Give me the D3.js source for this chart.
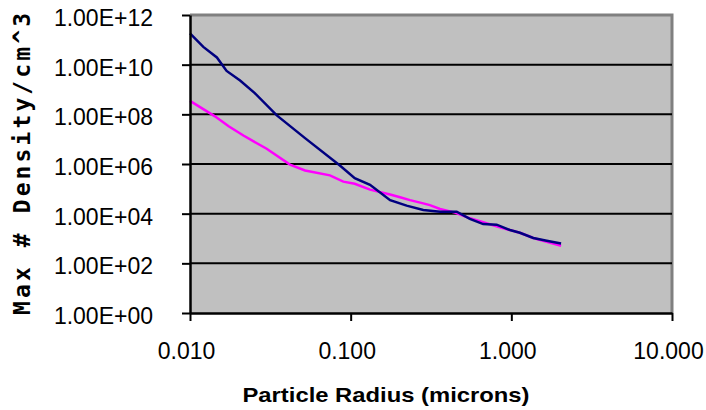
<!DOCTYPE html>
<html>
<head>
<meta charset="utf-8">
<script src="https://cdn.jsdelivr.net/npm/d3@7"></script>
<style>
  body { margin: 0; background: #fff; }
  text { font-family: "Liberation Sans", Arial, sans-serif; }
</style>
</head>
<body>
<div id="chart"></div>
<script>
// radius (microns) and max number density (cm^-3)
let blueRadius = [0.010, 0.0121, 0.0147, 0.0169, 0.0205, 0.0253, 0.0347, 0.052, 0.0857, 0.106, 0.132, 0.176,
  0.223, 0.283, 0.36, 0.457, 0.552, 0.668, 0.81, 0.98, 1.13, 1.37, 1.66, 2.04];
let blueDensity = [1.8e11, 5.2e10, 1.95e10, 5.6e9, 2.3e9, 7.2e8, 9.1e7, 1.1e7, 8.7e5, 2.7e5, 1.45e5, 3.5e4,
  2.1e4, 1.4e4, 1.2e4, 1.2e4, 6.2e3, 3.8e3, 3.6e3, 2.2e3, 1.7e3, 1.05e3, 8.1e2, 6.3e2];

let pinkRadius = [0.010, 0.0143, 0.0174, 0.0215, 0.030, 0.0419, 0.052, 0.0743, 0.09, 0.106, 0.132, 0.176,
  0.203, 0.234, 0.283, 0.311, 0.36, 0.446, 0.552, 0.668, 0.849, 1.13, 1.37, 2.04];
let pinkDensity = [3.5e8, 8.3e7, 3.3e7, 1.4e7, 4.1e6, 9.5e5, 5.5e5, 3.5e5, 1.95e5, 1.6e5, 9.3e4, 5.9e4,
  4.6e4, 3.5e4, 2.6e4, 2.2e4, 1.55e4, 1.1e4, 6.5e3, 4.5e3, 2.8e3, 1.7e3, 1.05e3, 5.1e2];

let xTicks = [0.01, 0.1, 1, 10];
let yTicks = [1, 1e2, 1e4, 1e6, 1e8, 1e10, 1e12];

let width = 706, height = 410;
let plotLeft = 190, plotRight = 672, plotTop = 15, plotBottom = 313;

let svg = d3.select("#chart").append("svg")
  .attr("width", width)
  .attr("height", height);

let xScale = d3.scaleLog().domain([0.01, 10]).range([plotLeft, plotRight]);
let yScale = d3.scaleLog().domain([1, 1e12]).range([plotBottom, plotTop]);

// plot background
svg.append("rect")
  .attr("x", plotLeft).attr("y", plotTop)
  .attr("width", plotRight - plotLeft).attr("height", plotBottom - plotTop)
  .attr("fill", "#c0c0c0");

// top and right border (grey)
svg.append("path")
  .attr("d", `M${plotLeft},${plotTop}H${plotRight}V${plotBottom}`)
  .attr("fill", "none")
  .attr("stroke", "#808080")
  .attr("stroke-width", 3);

// gridlines
svg.selectAll(".grid")
  .data(yTicks.slice(1, -1))
  .enter()
  .append("line")
  .attr("x1", plotLeft).attr("x2", plotRight)
  .attr("y1", d => yScale(d)).attr("y2", d => yScale(d))
  .attr("stroke", "#000")
  .attr("stroke-width", 2);

// lines
let line = d3.line().x(d => xScale(d[0])).y(d => yScale(d[1]));

svg.append("path")
  .datum(pinkRadius.map((r, i) => [r, pinkDensity[i]]))
  .attr("d", line)
  .attr("fill", "none")
  .attr("stroke", "#ff00ff")
  .attr("stroke-width", 2.5);

svg.append("path")
  .datum(blueRadius.map((r, i) => [r, blueDensity[i]]))
  .attr("d", line)
  .attr("fill", "none")
  .attr("stroke", "#000080")
  .attr("stroke-width", 2.5);

// axes
let xAxis = d3.axisBottom(xScale)
  .tickValues(xTicks)
  .tickFormat(d3.format(".3f"))
  .tickSize(8)
  .tickSizeOuter(0)
  .tickPadding(22);

let yAxis = d3.axisLeft(yScale)
  .tickValues(yTicks)
  .tickFormat(d => "1.00E+" + String(Math.round(Math.log10(d))).padStart(2, "0"))
  .tickSize(8)
  .tickSizeOuter(0)
  .tickPadding(29);

let gx = svg.append("g").attr("transform", `translate(0, ${plotBottom})`).call(xAxis);
let gy = svg.append("g").attr("transform", `translate(${plotLeft}, 0)`).call(yAxis);

[gx, gy].forEach(g => {
  g.select(".domain").attr("stroke", "#000").attr("stroke-width", 2.5);
  g.selectAll(".tick line").attr("stroke", "#000").attr("stroke-width", 2);
  g.selectAll(".tick text")
    .attr("fill", "#000")
    .style("font-family", "'Liberation Sans', Arial, sans-serif")
    .style("font-size", "23px");
});
gx.selectAll(".tick text").attr("dy", "0.71em").attr("dx", -4);
gy.selectAll(".tick text").attr("dy", "0.32em").attr("transform", "translate(0, 3)");

// axis titles
svg.append("text")
  .attr("x", 386).attr("y", 402)
  .attr("text-anchor", "middle")
  .attr("textLength", 287)
  .attr("lengthAdjust", "spacingAndGlyphs")
  .style("font-size", "21px")
  .style("font-weight", "bold")
  .text("Particle Radius (microns)");

svg.append("text")
  .attr("transform", "translate(30, 164) rotate(-90)")
  .attr("text-anchor", "middle")
  .attr("textLength", 302)
  .attr("lengthAdjust", "spacing")
  .style("font-family", "'DejaVu Sans Mono', monospace")
  .style("font-size", "23px")
  .style("font-weight", "bold")
  .text("Max # Density/cm^3");
</script>
</body>
</html>
